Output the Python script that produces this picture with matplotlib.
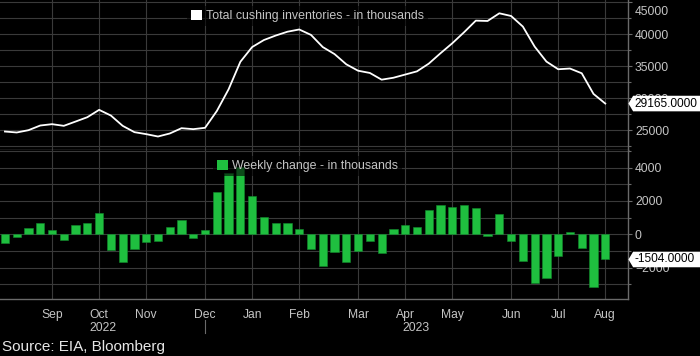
import numpy as np
import matplotlib
matplotlib.use("Agg")
import matplotlib.pyplot as plt
import matplotlib.transforms as mtransforms
from matplotlib.patches import Patch
from matplotlib.path import Path
from matplotlib.ticker import MultipleLocator

plt.rcParams['font.family'] = ['Liberation Sans', 'DejaVu Sans']

# weekly Cushing inventories (thousand barrels), Aug 2022 - Aug 2023
inventory = [24790, 24640, 25000, 25730, 25940, 25680, 26350, 27030, 28180, 27290,
             25680, 24690, 24380, 24010, 24480, 25310, 25160, 25370, 28000, 31400,
             35700, 38000, 39100, 39800, 40400, 40750, 39900, 38000, 36900, 35300,
             34300, 33950, 32900, 33200, 33700, 34200, 35400, 37030, 38590, 40310,
             42130, 42080, 43280, 42860, 41200, 38070, 35730, 34530, 34640, 33900,
             30670, 29165]
# weekly change (thousand barrels)
weekly_change = [-500, -140, 360, 680, 260, -320, 560, 660, 1280, -920,
                 -1640, -900, -440, -420, 440, 860, -200, 260, 2520, 3660,
                 4050, 2320, 1040, 660, 680, 320, -880, -1920, -1060, -1640,
                 -980, -420, -1100, 320, 540, 420, 1460, 1760, 1620, 1740,
                 1560, -120, 1220, -420, -1620, -2900, -2640, -1280, 140, -840,
                 -3140, -1504]
month_labels = ['Sep', 'Oct', 'Nov', 'Dec', 'Jan', 'Feb', 'Mar', 'Apr', 'May', 'Jun', 'Jul', 'Aug']
month_weeks = [4, 8, 12, 17, 21, 25, 30, 34, 38, 43, 47, 51]
years = ['2022', '2023']
year_weeks = [8.3, 34.9]

weeks = np.arange(len(inventory))
bg = '#000000'
grid_c = '#3a3a3a'
spine_c = '#6a6a6a'
txt_c = '#c4c4c4'
green = '#1fbf3f'

fig = plt.figure(figsize=(7.0, 3.56), dpi=100, facecolor=bg)
ax1 = fig.add_axes([0, 206 / 356, 628 / 700, 150 / 356], facecolor=bg)
ax2 = fig.add_axes([0, 57 / 356, 628 / 700, 149 / 356], facecolor=bg, sharex=ax1)

ax1.plot(weeks, inventory, color='white', lw=1.3, zorder=3)
ax2.bar(weeks, weekly_change, width=0.7, color=green, edgecolor='#118a2c', lw=0.4, zorder=3)

ax1.set_ylim(21900, 45360)
ax1.yaxis.set_major_locator(MultipleLocator(5000))
ax1.yaxis.set_minor_locator(MultipleLocator(2500))
ax2.set_ylim(-3870, 5050)
ax2.yaxis.set_major_locator(MultipleLocator(2000))
ax2.yaxis.set_minor_locator(MultipleLocator(1000))
ax1.set_xlim(-0.42, 52.93)
ax2.set_xticks(month_weeks)
ax2.set_xticklabels(month_labels)

for ax in (ax1, ax2):
    for s in ('left', 'top'):
        ax.spines[s].set_visible(False)
    for s in ('right', 'bottom'):
        ax.spines[s].set_color(spine_c)
        ax.spines[s].set_linewidth(1.0)
    ax.yaxis.tick_right()
    ax.tick_params(axis='y', which='major', colors=spine_c, length=3, width=0.8,
                   labelcolor=txt_c, labelsize=8.7, pad=2)
    ax.tick_params(axis='y', which='minor', colors=spine_c, length=2, width=0.8)
    ax.tick_params(axis='x', length=0, labelcolor=txt_c, labelsize=8.7, pad=7)
    ax.grid(True, which='both', axis='y', color=grid_c, lw=0.8, zorder=0)
    ax.grid(True, which='major', axis='x', color=grid_c, lw=0.8, zorder=0)
    ax.set_axisbelow(True)
ax1.tick_params(axis='x', labelbottom=False)
fig.canvas.draw()
# top label sits lower so it is not cut by the figure edge
for lab in ax1.get_yticklabels():
    if lab.get_text() == '45000':
        lab.set_transform(lab.get_transform() +
                          mtransforms.ScaledTranslation(0, -8 / 100, fig.dpi_scale_trans))

# legends
leg_kw = dict(loc='center', bbox_to_anchor=(0.49, 0.893), fontsize=8.9,
              handlelength=0.85, handleheight=0.85, handletextpad=0.4,
              frameon=True, facecolor='black', edgecolor='none', framealpha=0.6,
              fancybox=False, borderpad=0.3, labelcolor=txt_c)
ax1.legend([Patch(facecolor='white', edgecolor='none')],
           ['Total cushing inventories - in thousands'], **leg_kw)
ax2.legend([Patch(facecolor=green, edgecolor='none')],
           ['Weekly change - in thousands'], **leg_kw)


def tag_box(x0, y0, width, height, mutation_size):
    pad = 0.15 * mutation_size
    x0, y0 = x0 - pad, y0 - pad
    width, height = width + 2 * pad, height + 2 * pad
    tip = height * 0.3
    verts = [(x0, y0), (x0 + width + 20, y0), (x0 + width + 20, y0 + height),
             (x0, y0 + height), (x0 - tip, y0 + height / 2), (x0, y0)]
    return Path(verts, closed=True)


for ax, val in ((ax1, inventory[-1]), (ax2, weekly_change[-1])):
    ax.text(1.011, val, f'{val:.4f}', transform=ax.get_yaxis_transform(),
            ha='left', va='center', fontsize=8.6, color='black', zorder=10,
            clip_on=False, bbox=dict(boxstyle=tag_box, facecolor='white', edgecolor='none'))

# year labels and separator
for yr, w in zip(years, year_weeks):
    ax2.text(w, -0.195, yr, transform=ax2.get_xaxis_transform(), ha='center', va='center',
             fontsize=8.7, color=txt_c)
ax2.plot([17, 17], [-0.14, -0.23], transform=ax2.get_xaxis_transform(), color=spine_c,
         lw=0.8, clip_on=False)

fig.text(0.003, 9 / 356, 'Source: EIA, Bloomberg', ha='left', va='center',
         fontsize=11, color='#e6e6e6')

fig.savefig('out.png', dpi=100, facecolor=bg)
